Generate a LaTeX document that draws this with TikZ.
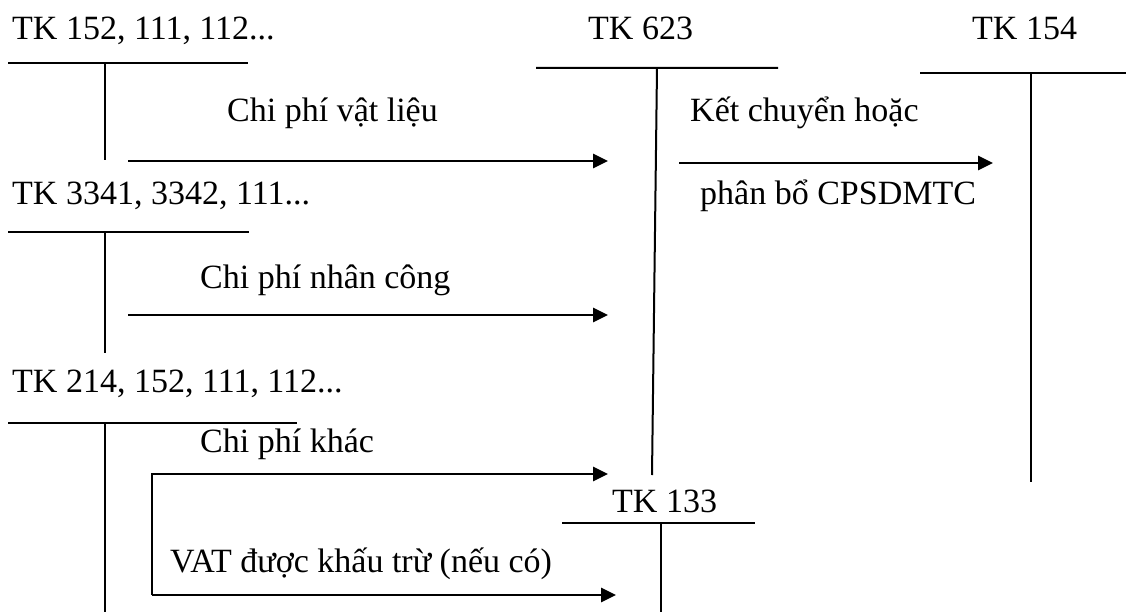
\documentclass[tikz,border=0pt]{standalone}
\usepackage{fontspec}
\setmainfont{Liberation Serif}
\usetikzlibrary{arrows.meta}
\begin{document}
\begin{tikzpicture}[x=1pt,y=-1pt,
  lbl/.style={anchor=base west,inner sep=0pt,font=\fontsize{34}{40}\selectfont},
  tline/.style={line width=2pt},
  flow/.style={line width=2.8pt,-{Triangle[length=15pt,width=14pt]}}]
\useasboundingbox (0,0) rectangle (1126,612);

% account titles
\node[lbl] (t152) at (12,40) {TK 152, 111, 112...};
\node[lbl] (t334) at (12,205) {TK 3341, 3342, 111...};
\node[lbl] (t214) at (12,392) {TK 214, 152, 111, 112...};
\node[lbl] (t623) at (588,40) {TK 623};
\node[lbl] (t154) at (972,40) {TK 154};
\node[lbl] (t133) at (612,512) {TK 133};

% flow labels
\node[lbl] (l1) at (227,122) {Chi phí vật liệu};
\node[lbl] (l2) at (200,288) {Chi phí nhân công};
\node[lbl] (l3) at (200,452) {Chi phí khác};
\node[lbl] (l4) at (170,572) {VAT được khấu trừ (nếu có)};
\node[lbl] (l5a) at (690,122) {Kết chuyển hoặc};
\node[lbl] (l5b) at (700,205) {phân bổ CPSDMTC};

% T-accounts
\draw[tline] (8,63) -- (248,63) (105,63) -- (105,160);
\draw[tline] (8,232) -- (249,232) (105,232) -- (105,353);
\draw[tline] (8,423) -- (297,423) (105,423) -- (105,612);
\draw[tline] (536,68) -- (778,68) (657,68) -- (652,475);
\draw[tline] (920,73) -- (1126,73) (1031,73) -- (1031,482);
\draw[tline] (562,523) -- (755,523) (661,523) -- (661,612);

% arrow end points
\coordinate (a1s) at (128,161);
\coordinate (a1e) at (608,161);
\coordinate (a2s) at (128,315);
\coordinate (a2e) at (608,315);
\coordinate (a3c) at (152,474);
\coordinate (a3e) at (608,474);
\coordinate (a4c) at (152,595);
\coordinate (a4e) at (616,595);
\coordinate (a5s) at (679,163);
\coordinate (a5e) at (993,163);

\draw[flow] (a1s) -- (a1e);
\draw[flow] (a2s) -- (a2e);
\draw[flow] (a4c) -- (a3c) -- (a3e);
\draw[flow] (a4c) -- (a4e);
\draw[flow] (a5s) -- (a5e);
\end{tikzpicture}
\end{document}
